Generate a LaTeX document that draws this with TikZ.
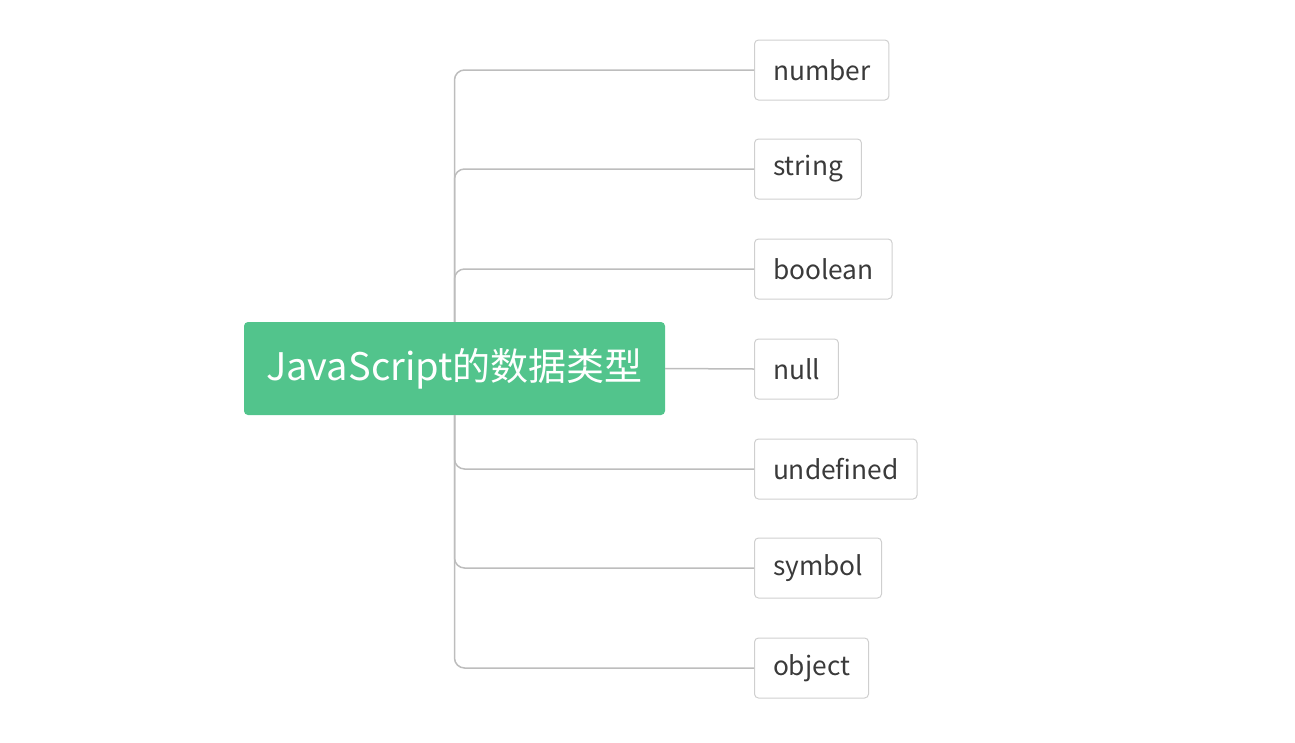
\documentclass[tikz,border=0pt]{standalone}
\usepackage{fontspec}
\setmainfont{Noto Sans CJK SC}
\definecolor{rootgreen}{HTML}{52C48C}
\definecolor{linegray}{HTML}{BDBDBD}
\definecolor{boxgray}{HTML}{CFCFCF}
\definecolor{textgray}{HTML}{3A3A3A}
\tikzset{
  root/.style={fill=rootgreen,text=white,rounded corners=4pt,minimum width=421pt,minimum height=93pt,inner sep=0pt,font=\fontsize{38}{42}\selectfont},
  leaf/.style={draw=boxgray,line width=1pt,rounded corners=4pt,anchor=west,minimum height=60pt,inner xsep=18.5pt,inner ysep=0pt,text=textgray,font=\fontsize{26.3}{30}\selectfont},
  link/.style={draw=linegray,line width=1.5pt,rounded corners=10pt}
}

\begin{document}
\begin{tikzpicture}[x=1pt,y=-1pt]
    \useasboundingbox (0,0) rectangle (1295,742);
    \node[root] (js) at (454.5,368.5) {JavaScript的数据类型};
    \node[leaf] (number) at (754,70) {number};
    \node[leaf] (string) at (754,169) {string};
    \node[leaf] (boolean) at (754,269) {boolean};
    \node[leaf] (null) at (754,369) {null};
    \node[leaf] (undefined) at (754,469) {undefined};
    \node[leaf] (symbol) at (754,568) {symbol};
    \node[leaf] (object) at (754,668) {object};
    \draw [link] (js.north) |- (number.west);
    \draw [link] (js.north) |- (string.west);
    \draw [link] (js.north) |- (boolean.west);
    \draw [link] (js.east) -- (null.west);
    \draw [link] (js.south) |- (undefined.west);
    \draw [link] (js.south) |- (symbol.west);
    \draw [link] (js.south) |- (object.west);
\end{tikzpicture}
\end{document}
